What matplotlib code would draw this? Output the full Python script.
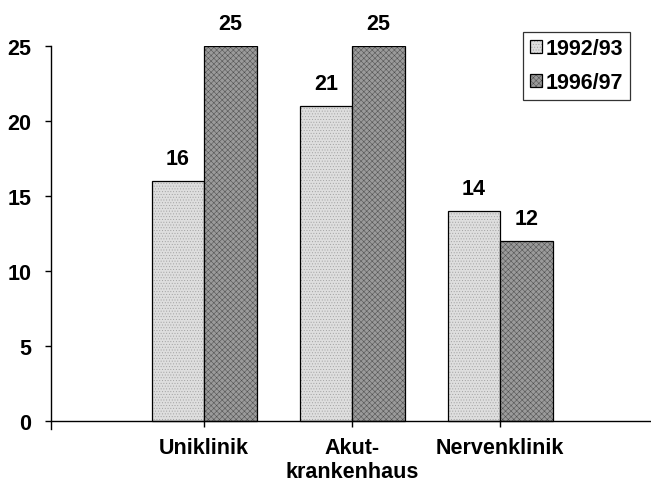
import matplotlib
matplotlib.use("Agg")
import matplotlib.pyplot as plt
import numpy as np

plt.rcParams['font.family'] = ['Liberation Sans', 'DejaVu Sans']
plt.rcParams['font.weight'] = 'bold'
plt.rcParams['hatch.linewidth'] = 0.35

categories = ["Uniklinik", "Akut-\nkrankenhaus", "Nervenklinik"]
series_names = ["1992/93", "1996/97"]
values_9293 = [16, 21, 14]
values_9697 = [25, 25, 12]
y_ticks = [0, 5, 10, 15, 20, 25]

FS = 15.5

fig = plt.figure(figsize=(6.51, 4.85), dpi=100)
ax = fig.add_axes([51 / 651, (485 - 430) / 485, 600 / 651, (430 - 47) / 485])

x = np.arange(len(categories))
w = 0.355
b1 = ax.bar(x - w / 2, values_9293, width=w, facecolor='#dedede', edgecolor='black',
            linewidth=0.9, hatch='......', label=series_names[0], zorder=2)
b2 = ax.bar(x + w / 2, values_9697, width=w, facecolor='#9a9a9a', edgecolor='black',
            linewidth=0.9, hatch='xxxxxx', label=series_names[1], zorder=2)
for bar in b1:
    bar._hatch_color = (0.62, 0.62, 0.62, 1)
for bar in b2:
    bar._hatch_color = (0.30, 0.30, 0.30, 1)

for xs, vals in ((x - w / 2, values_9293), (x + w / 2, values_9697)):
    for xi, v in zip(xs, vals):
        ax.text(xi, v + 0.8, f"{v}", ha='center', va='bottom', fontsize=FS, fontweight='bold')

ax.set_xlim(-1.035, 3.02)
ax.set_ylim(-0.5, 25)
ax.spines['top'].set_visible(False)
ax.spines['right'].set_visible(False)
ax.spines['bottom'].set_position(('data', 0))
ax.spines['left'].set_bounds(-0.5, 25)
for s in ('left', 'bottom'):
    ax.spines[s].set_linewidth(1.0)

ax.set_yticks(y_ticks)
ax.set_yticklabels([str(t) for t in y_ticks], fontsize=FS, fontweight='bold')
ax.set_xticks(x)
ax.set_xticklabels(categories, fontsize=FS, fontweight='bold', linespacing=1.15)
ax.tick_params(axis='y', direction='out', length=4.5, width=1, pad=9.5)
ax.tick_params(axis='x', direction='out', length=4.5, width=1, pad=7)

leg = ax.legend(loc='upper right', bbox_to_anchor=((630 - 51) / 600, (430 - 33) / 383),
                prop={'size': FS, 'weight': 'bold'}, frameon=True, fancybox=False,
                edgecolor='black', handlelength=0.55, handleheight=0.55, handletextpad=0.2,
                borderpad=0.3, labelspacing=0.6, borderaxespad=0)
leg.get_frame().set_linewidth(0.9)

fig.savefig("out.png", dpi=100)
